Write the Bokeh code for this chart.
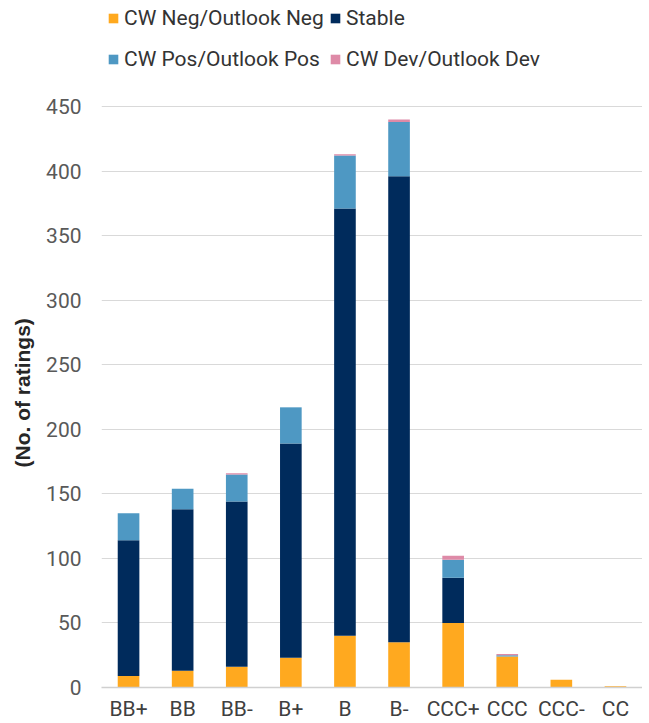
from bokeh.plotting import figure
from bokeh.models import ColumnDataSource, Legend, LegendItem, FixedTicker, Range1d, FactorRange, Title
from bokeh.embed import file_html
from bokeh.resources import INLINE

categories = ["BB+", "BB", "BB-", "B+", "B", "B-", "CCC+", "CCC", "CCC-", "CC"]
cw_neg = [9, 13, 16, 23, 40, 35, 50, 24, 6, 1]
stable = [105, 125, 128, 166, 331, 361, 35, 0, 0, 0]
cw_pos = [21, 16, 21, 28, 41, 42, 14, 1, 0, 0]
cw_dev = [0, 0, 1, 0, 1, 2, 3, 1, 0, 0]
y_ticks = [0, 50, 100, 150, 200, 250, 300, 350, 400, 450]

series = ["neg", "stable", "pos", "dev"]
labels = ["CW Neg/Outlook Neg", "Stable", "CW Pos/Outlook Pos", "CW Dev/Outlook Dev"]
colors = ["#FFA91F", "#002B5C", "#4E98C3", "#DE8AA7"]

src = ColumnDataSource(dict(cat=categories, neg=cw_neg, stable=stable, pos=cw_pos, dev=cw_dev))

FONT = "Roboto"
FRAME_H = 687          # frame spans from the top of the canvas to the baseline
AXIS_PX = 581          # pixels used by the 0..450 axis
y_top = 450 * FRAME_H / AXIS_PX   # headroom above 450 holds the legend

p = figure(x_range=FactorRange(*categories, range_padding=0), y_range=Range1d(0, y_top),
           frame_width=541, frame_height=FRAME_H, output_backend="svg", toolbar_location=None,
           min_border_left=101, min_border_right=0, min_border_top=0, min_border_bottom=0)
p.outline_line_color = None
p.background_fill_color = "white"
p.border_fill_color = "white"

renderers = p.vbar_stack(series, x="cat", width=0.4, color=colors, source=src, line_width=0)

# axes
p.yaxis.ticker = FixedTicker(ticks=y_ticks)
p.yaxis.axis_line_color = None
p.yaxis.major_tick_line_color = None
p.yaxis.minor_tick_line_color = None
p.yaxis.major_tick_out = 0
p.yaxis.major_label_standoff = 20
p.yaxis.major_label_text_font = FONT
p.yaxis.major_label_text_font_size = "21px"
p.yaxis.major_label_text_color = "#595959"

ylab = Title(text="(No. of ratings)", align="left", offset=220, vertical_align="middle",
             standoff=17,
             text_font="Liberation Sans", text_font_style="bold",
             text_font_size="21px", text_color="#262626")
p.add_layout(ylab, "left")

p.xaxis.axis_line_color = "#D0D0D0"
p.xaxis.axis_line_width = 1.5
p.xaxis.major_tick_line_color = None
p.xaxis.minor_tick_line_color = None
p.xaxis.major_tick_out = 0
p.xaxis.major_label_standoff = 9
p.xaxis.major_label_text_font = FONT
p.xaxis.major_label_text_font_size = "21px"
p.xaxis.major_label_text_color = "#404040"

p.xgrid.grid_line_color = None
p.ygrid.grid_line_color = "#D9D9D9"
p.ygrid.grid_line_width = 1

def make_legend(idx, loc):
    lg = Legend(items=[LegendItem(label=labels[i], renderers=[renderers[i]]) for i in idx],
                location=loc, orientation="horizontal",
                glyph_width=12, glyph_height=12, label_standoff=5, label_width=200,
                label_height=25, spacing=5, padding=0, margin=0,
                label_text_font=FONT, label_text_font_size="21px", label_text_color="#333333",
                border_line_color=None, background_fill_alpha=0)
    p.add_layout(lg, "center")

make_legend([0, 1], (6, 656.5))
make_legend([2, 3], (6, 615.5))

open("out.html", "w").write(file_html(p, INLINE))
